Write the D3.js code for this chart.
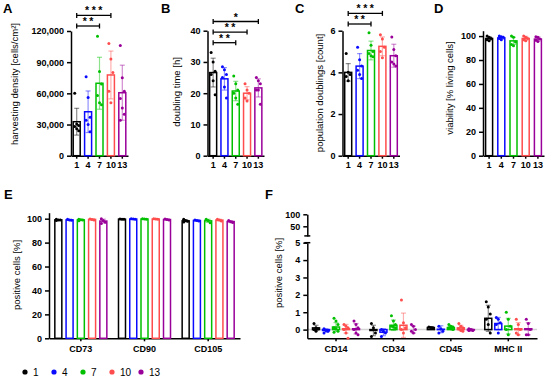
<!DOCTYPE html>
<html lang="en">
<head>
<meta charset="utf-8">
<title>MSC passages</title>
<script src="https://cdn.jsdelivr.net/npm/d3@7"></script>
<style>
  body { margin: 0; background: #fff; }
  svg text { font-family: "Liberation Sans", Arial, sans-serif; fill: #000; }
  .axis path, .axis line { stroke: #000; stroke-width: 1.5; }
  .axis text { font-weight: bold; font-size: 9px; }
  .ttl { font-size: 9.5px; }
  .letter { font-size: 13px; font-weight: bold; }
</style>
</head>
<body>
<script>
// passages (series)
const passages = ["1", "4", "7", "10", "13"];
const passageColors = ["#000000", "#0a0aff", "#00c000", "#ff4d4d", "#990099"];

// A - harvesting density
const densityMean = [32700, 42300, 69700, 77700, 60600];
const densitySD = [12900, 20000, 25000, 23000, 26500];
const densityPts = [
  [60000, 30500, 29000, 28000, 26000, 24000],
  [76000, 56000, 37000, 34000, 30000, 23000],
  [115000, 81000, 69000, 58000, 51000, 49000],
  [108000, 93000, 80000, 62000, 51000],
  [106000, 75000, 62000, 55000, 46000, 40000, 34000]
];
const densitySig = [["1", "7", "**"], ["1", "10", "***"]];

// B - doubling time
const doublingMean = [26.6, 24.6, 20.7, 20.0, 21.7];
const doublingSD = [4.6, 3.6, 3.1, 2.1, 2.9];
const doublingPts = [
  [33, 30, 27, 26, 24, 19.5],
  [28.5, 27.5, 26, 25, 22, 18.5],
  [25.5, 23, 21, 20, 18.5, 16.5],
  [23, 21, 20, 18.5, 17.5],
  [25, 24, 23, 21, 21, 16.5]
];
const doublingSig = [["1", "7", "**"], ["1", "10", "**"], ["1", "13", "*"]];

// C - population doublings
const pdMean = [4.0, 4.3, 5.05, 5.25, 4.8];
const pdSD = [0.42, 0.6, 0.45, 0.45, 0.55];
const pdPts = [
  [4.9, 4.0, 3.9, 3.8, 3.6],
  [5.2, 4.6, 4.3, 4.1, 3.9, 3.7],
  [5.9, 5.3, 5.0, 4.9, 4.8, 4.75],
  [5.8, 5.6, 5.2, 5.0, 4.7],
  [5.7, 5.1, 4.8, 4.5, 4.4, 4.3]
];
const pdSig = [["1", "7", "**"], ["1", "10", "***"]];

// D - viability
const viabMean = [98, 98.5, 96, 98, 97.5];
const viabSD = [1.5, 1.2, 3, 1.8, 1.8];
const viabPts = [
  [100, 99, 98, 97, 96],
  [100, 99.5, 99, 98, 97],
  [100, 99, 95, 93, 92],
  [100, 99, 98, 97, 96],
  [99.5, 99, 97.5, 96.5, 95.5]
];

// E - positive markers
const posMarkers = ["CD73", "CD90", "CD105"];
const posMean = [[99, 99, 99, 99.4, 98], [99.6, 99.7, 99.7, 99.7, 99.3], [98.2, 98.5, 98.2, 98.8, 97.6]];
const posSD = [[0.4, 0.4, 0.5, 0.4, 1.6], [0.2, 0.2, 0.2, 0.2, 0.3], [0.9, 0.5, 1.3, 0.7, 0.8]];
const posPts = [
  [[99.5, 99, 98.8, 98.5], [99.5, 99, 98.7], [99.6, 99.2, 98.8, 98.2], [99.8, 99.4, 99], [100, 98.5, 97, 96]],
  [[99.8, 99.6, 99.5], [99.9, 99.7, 99.5], [99.9, 99.7, 99.6], [99.9, 99.7, 99.5], [99.7, 99.3, 99]],
  [[99.5, 98.5, 97.8, 97.2], [99, 98.5, 98], [99.5, 98.5, 96.5], [99.5, 98.8, 98], [98.5, 97.5, 96.8]]
];

// F - negative markers
const negMarkers = ["CD14", "CD34", "CD45", "MHC II"];
const negMean = [[0.1, -0.05, 0.15, 0.05, 0.05], [-0.05, -0.15, 0.25, 0.25, 0.0], [0.12, 0.02, 0.12, 0.1, -0.02], [0.65, 0.35, 0.2, 0.05, 0.05]];
const negSD = [[0.15, 0.1, 0.25, 0.25, 0.3], [0.3, 0.2, 0.3, 0.7, 0.2], [0.05, 0.2, 0.1, 0.15, 0.08], [0.75, 0.35, 0.45, 0.35, 0.35]];
const negPts = [
  [[0.35, 0.1, 0.05, 0.0, -0.1], [0.05, -0.05, -0.1, -0.2], [0.65, 0.5, 0.3, 0.1, 0.05, -0.1, -0.15], [0.3, 0.2, 0.1, 0.0, -0.2, -0.5], [0.5, 0.3, 0.1, 0.0, -0.2, -0.3]],
  [[0.35, 0.1, -0.2, -0.4], [0.0, -0.1, -0.2, -0.4], [0.8, 0.5, 0.3, 0.2, 0.15, 0.1], [1.7, 0.4, 0.1, 0.0, -0.2], [0.3, 0.2, 0.0, -0.1, -0.2]],
  [[0.15, 0.12, 0.1], [0.2, 0.05, -0.1, -0.2], [0.3, 0.2, 0.15, 0.1, 0.05, 0.0], [0.35, 0.2, 0.1, 0.05, -0.05, -0.1], [0.05, 0.0, -0.05, -0.05]],
  [[1.6, 1.3, 0.9, 0.6, 0.3, -0.2], [0.7, 0.6, 0.4, 0.3, -0.2], [1.0, 0.6, 0.2, 0.0, -0.3], [0.6, 0.3, 0.0, -0.2, -0.3], [0.6, 0.35, 0.0, -0.3, -0.3]]
];

var svg = d3.select("body").append("svg")
  .attr("width", 550).attr("height", 378);

var BAR_W = 7;

function jitter(i) { return ((i % 3) - 1) * 2; }

// one bar + its sd + dots
function drawBar(g, cx, mean, sd, pts, color, y) {
  var y0 = y(0);
  g.append("rect")
    .attr("x", cx - BAR_W / 2)
    .attr("y", Math.min(y(mean), y0))
    .attr("width", BAR_W)
    .attr("height", Math.abs(y0 - y(mean)))
    .attr("fill", "none")
    .attr("stroke", color)
    .attr("stroke-width", 1.5);
  var eb = g.append("g").attr("stroke", color).attr("stroke-opacity", 0.45).attr("stroke-width", 1.2);
  eb.append("line").attr("x1", cx).attr("x2", cx).attr("y1", y(mean - sd)).attr("y2", y(mean + sd));
  eb.append("line").attr("x1", cx - 2.5).attr("x2", cx + 2.5).attr("y1", y(mean + sd)).attr("y2", y(mean + sd));
  eb.append("line").attr("x1", cx - 2.5).attr("x2", cx + 2.5).attr("y1", y(mean - sd)).attr("y2", y(mean - sd));
  g.selectAll(null).data(pts).enter().append("circle")
    .attr("cx", function(d, i) { return cx + jitter(i); })
    .attr("cy", function(d) { return y(d); })
    .attr("r", 1.5)
    .attr("fill", color);
}

function yTitle(text, x, y) {
  svg.append("text").attr("class", "ttl")
    .attr("transform", "translate(" + x + "," + y + ") rotate(-90)")
    .attr("text-anchor", "middle")
    .attr("dy", "0.35em")
    .text(text);
}

function letter(t, x, y) {
  svg.append("text").attr("class", "letter").attr("x", x).attr("y", y).text(t);
}

function simplePanel(o) {
  var x = d3.scaleBand().domain(passages).range([o.x0, o.x1]);
  var y = d3.scaleLinear().domain(o.yDomain).range([o.yBottom, o.yTop]);

  svg.append("g").attr("class", "axis")
    .attr("transform", "translate(" + o.x0 + ",0)")
    .call(d3.axisLeft(y).tickValues(o.ticks).tickFormat(o.fmt).tickSize(4).tickSizeOuter(0));
  svg.append("g").attr("class", "axis")
    .attr("transform", "translate(0," + o.yBottom + ")")
    .call(d3.axisBottom(x).tickSize(3).tickSizeOuter(0));

  var g = svg.append("g");
  passages.forEach(function(p, i) {
    drawBar(g, x(p) + x.bandwidth() / 2, o.mean[i], o.sd[i], o.pts[i], passageColors[i], y);
  });

  (o.sig || []).forEach(function(s, k) {
    var ly = o.sigBase - k * 10.6;
    var xa = x(s[0]) + x.bandwidth() / 2, xb = x(s[1]) + x.bandwidth() / 2;
    var sg = svg.append("g").attr("stroke", "#000").attr("stroke-width", 1.3);
    sg.append("line").attr("x1", xa).attr("x2", xb).attr("y1", ly).attr("y2", ly);
    sg.append("line").attr("x1", xa).attr("x2", xa).attr("y1", ly - 2.5).attr("y2", ly + 2.5);
    sg.append("line").attr("x1", xb).attr("x2", xb).attr("y1", ly - 2.5).attr("y2", ly + 2.5);
    svg.append("text")
      .attr("x", (xa + xb) / 2 + 1.2).attr("y", ly - 1)
      .attr("text-anchor", "middle")
      .attr("font-size", "10.5px").attr("font-weight", "bold")
      .attr("letter-spacing", "2.5px")
      .text(s[2]);
  });

  yTitle(o.title, o.titleX, o.titleY);
  letter(o.letter, o.letterX, 12.7);
}

simplePanel({ x0: 71, x1: 128, yBottom: 155.7, yTop: 31, yDomain: [0, 120000],
  ticks: [0, 30000, 60000, 90000, 120000], fmt: d3.format(","),
  mean: densityMean, sd: densitySD, pts: densityPts, sig: densitySig, sigBase: 26,
  title: "harvesting density [cells/cm\u00b2]", titleX: 15, titleY: 84, letter: "A", letterX: 3 });

simplePanel({ x0: 207.5, x1: 264, yBottom: 155.7, yTop: 30.7, yDomain: [0, 40],
  ticks: [0, 10, 20, 30, 40], fmt: d3.format("d"),
  mean: doublingMean, sd: doublingSD, pts: doublingPts, sig: doublingSig, sigBase: 42.7,
  title: "doubling time [h]", titleX: 177, titleY: 92, letter: "B", letterX: 161 });

simplePanel({ x0: 342.5, x1: 399.5, yBottom: 155.7, yTop: 30.7, yDomain: [0, 6],
  ticks: [0, 2, 4, 6], fmt: d3.format("d"),
  mean: pdMean, sd: pdSD, pts: pdPts, sig: pdSig, sigBase: 24,
  title: "population doublings [count]", titleX: 320, titleY: 93, letter: "C", letterX: 295 });

simplePanel({ x0: 483, x1: 544, yBottom: 155.7, yTop: 30.7, yDomain: [0, 104.5],
  ticks: [0, 20, 40, 60, 80, 100], fmt: d3.format("d"),
  mean: viabMean, sd: viabSD, pts: viabPts,
  title: "viability [% living cells]", titleX: 450, titleY: 88, letter: "D", letterX: 434 });

// grouped panels
function groupedBars(markers, means, sds, pts, xo, y) {
  var xi = d3.scaleBand().domain(passages).range([-xo.bandwidth() / 2 + 3.7, xo.bandwidth() / 2 - 3.7]);
  var g = svg.append("g");
  markers.forEach(function(m, j) {
    passages.forEach(function(p, i) {
      var cx = xo(m) + xo.bandwidth() / 2 + xi(p) + xi.bandwidth() / 2;
      drawBar(g, cx, means[j][i], sds[j][i], pts[j][i], passageColors[i], y);
    });
  });
}

// E
(function() {
  var xo = d3.scaleBand().domain(posMarkers).range([49, 240]);
  var y = d3.scaleLinear().domain([0, 105]).range([338.3, 212.7]);
  svg.append("g").attr("class", "axis").attr("transform", "translate(49,0)")
    .call(d3.axisLeft(y).tickValues([0, 20, 40, 60, 80, 100]).tickSize(4).tickSizeOuter(0));
  svg.append("g").attr("class", "axis").attr("transform", "translate(0,338.3)")
    .call(d3.axisBottom(xo).tickSize(3).tickPadding(4).tickSizeOuter(0));
  groupedBars(posMarkers, posMean, posSD, posPts, xo, y);
  yTitle("positive cells [%]", 17, 275);
  letter("E", 4, 199);
})();

// F (broken y axis)
(function() {
  var xo = d3.scaleBand().domain(negMarkers).range([307.3, 537]);
  var yLow = d3.scaleLinear().domain([-0.5, 5]).range([338.3, 242.7]);
  var yHigh = d3.scaleLinear().domain([10, 100]).range([235.9, 214.3]);

  svg.append("line")
    .attr("x1", 307.3).attr("x2", 537)
    .attr("y1", yLow(0)).attr("y2", yLow(0))
    .attr("stroke", "#d4d4d4").attr("stroke-width", 1.5);

  svg.append("g").attr("class", "axis").attr("transform", "translate(307.3,0)")
    .call(d3.axisLeft(yLow).tickValues([0, 1, 2, 3, 4, 5]).tickFormat(d3.format("d")).tickSize(4).tickSizeOuter(0));
  svg.append("g").attr("class", "axis").attr("transform", "translate(307.3,0)")
    .call(d3.axisLeft(yHigh).tickValues([50, 100]).tickFormat(d3.format("d")).tickSize(4).tickSizeOuter(0));
  // break marks
  [yHigh(10), yLow(5)].forEach(function(by) {
    svg.append("line").attr("x1", 304.3).attr("x2", 310.3).attr("y1", by).attr("y2", by)
      .attr("stroke", "#000").attr("stroke-width", 1.5);
  });
  svg.append("g").attr("class", "axis").attr("transform", "translate(0,338.3)")
    .call(d3.axisBottom(xo).tickSize(3).tickPadding(4).tickSizeOuter(0));

  groupedBars(negMarkers, negMean, negSD, negPts, xo, yLow);
  yTitle("positive cells [%]", 279, 273);
  letter("F", 265, 199);
})();

// legend
var leg = svg.append("g").attr("transform", "translate(0,372)");
passages.forEach(function(p, i) {
  var lx = 25 + i * 29;
  leg.append("circle").attr("cx", lx).attr("cy", 0).attr("r", 2.6).attr("fill", passageColors[i]);
  leg.append("text").attr("x", lx + 8).attr("y", 0).attr("dy", "0.35em")
    .attr("font-size", "10px").text(p);
});
</script>
</body>
</html>
